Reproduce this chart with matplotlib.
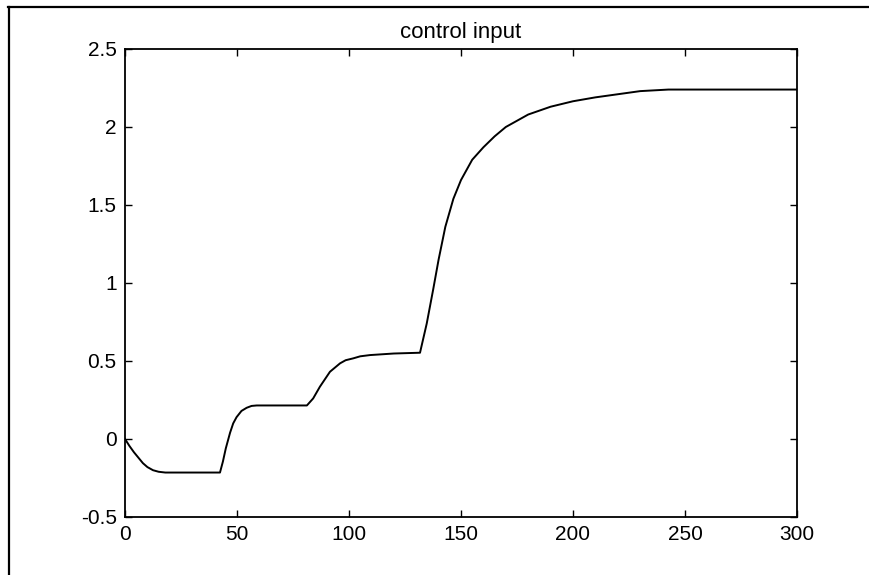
import matplotlib
matplotlib.use("Agg")
import matplotlib.pyplot as plt
from matplotlib.lines import Line2D

# Data
t = [0, 2, 4, 6, 8, 10, 12.5, 15, 18, 42.4, 43.7, 45, 46.9, 48.3, 49.8, 52,
     54.3, 56.5, 58.8, 81.2, 84, 87, 91.5, 96, 98.5, 101.9, 105, 109.4, 120,
     131.7, 134.7, 137.6, 140, 143, 146.6, 150, 155, 160, 165, 170, 175,
     180, 190, 200, 210, 220, 230, 242.6, 300]
u = [0, -0.045, -0.085, -0.12, -0.155, -0.18, -0.20, -0.21, -0.215, -0.215,
     -0.145, -0.06, 0.04, 0.10, 0.14, 0.18, 0.20, 0.212, 0.215, 0.215, 0.26,
     0.335, 0.431, 0.485, 0.505, 0.517, 0.53, 0.538, 0.548, 0.553, 0.74,
     0.96, 1.15, 1.36, 1.54, 1.66, 1.79, 1.87, 1.94, 2.0, 2.04, 2.08, 2.13,
     2.165, 2.19, 2.21, 2.23, 2.24, 2.24]
xticks = [0, 50, 100, 150, 200, 250, 300]
yticks = [-0.5, 0, 0.5, 1, 1.5, 2, 2.5]
yticklabels = ["-0.5", "0", "0.5", "1", "1.5", "2", "2.5"]
title = "control input"

plt.rcParams['font.family'] = ['Liberation Sans', 'DejaVu Sans']

fig = plt.figure(figsize=(8.7, 5.75), dpi=100)
ax = fig.add_axes([125/870, 1 - 517/575, (797 - 125)/870, (517 - 49)/575])
ax.plot(t, u, color='black', lw=1.4)
ax.set_xlim(0, 300)
ax.set_ylim(-0.5, 2.5)
ax.set_xticks(xticks)
ax.set_xticklabels([str(v) for v in xticks])
ax.set_yticks(yticks)
ax.set_yticklabels(yticklabels)
ax.tick_params(direction='in', top=True, right=True, length=5, width=1,
               labelsize=15, pad=6, colors='black')
for s in ax.spines.values():
    s.set_linewidth(1.3)
ax.set_title(title, fontsize=16, pad=8)

# scan frame lines
fig.add_artist(Line2D([8/870, 1.0], [1 - 7/575, 1 - 7/575], transform=fig.transFigure,
                      color='black', lw=1.6))
fig.add_artist(Line2D([9/870, 9/870], [1 - 7/575, 0.0], transform=fig.transFigure,
                      color='black', lw=1.6))

fig.savefig("out.png", dpi=100)
